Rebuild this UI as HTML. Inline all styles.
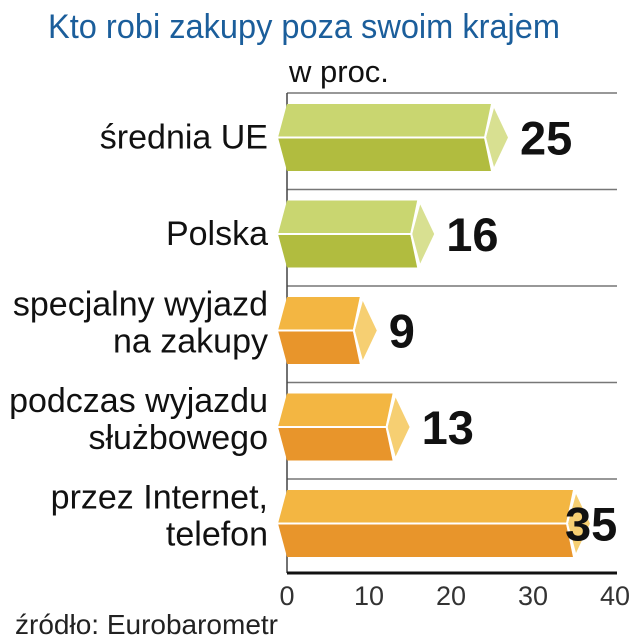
<!DOCTYPE html>
<html><head><meta charset="utf-8"><style>
html,body{margin:0;padding:0;background:#fff;}
svg{display:block;font-family:"Liberation Sans",sans-serif;}
</style></head><body>
<svg id="chart" width="629" height="640" viewBox="0 0 629 640">
<text x="48" y="38" font-size="34" fill="#1b5e9b" textLength="512" lengthAdjust="spacingAndGlyphs">Kto robi zakupy poza swoim krajem</text>
<text x="289" y="82" font-size="31" fill="#111">w proc.</text>
<g id="grid"></g><g id="bars"></g><g id="labels"></g>
<line x1="287" y1="573" x2="617" y2="573" stroke="#111" stroke-width="3"/>
<g id="ticks"></g>
<text x="15" y="634" font-size="28" fill="#222">źródło: Eurobarometr</text>
</svg>
<script>
const categories=[["średnia UE"],["Polska"],["specjalny wyjazd","na zakupy"],["podczas wyjazdu","służbowego"],["przez Internet,","telefon"]];
const values=[25,16,9,13,35];
const groups=["g","g","o","o","o"];
const tickValues=[0,10,20,30,40];
const NS="http://www.w3.org/2000/svg";
const x0=287,pxPer=8.2,rowTop=104,rowStep=96.5,barH=67;
const xs=v=>x0+v*pxPer;
const pal={g:["#c9d670","#b1bc3f","#d8e091"],o:["#f3b642","#e8952b","#f6cf72"]};
function mk(t,a,p){const e=document.createElementNS(NS,t);for(const k in a)e.setAttribute(k,a[k]);p.appendChild(e);return e;}
const grid=document.getElementById('grid'),bars=document.getElementById('bars'),labels=document.getElementById('labels'),ticks=document.getElementById('ticks');
for(let i=0;i<values.length;i++){
  const y=rowTop-11+i*rowStep;
  const l=mk('line',{x1:x0,y1:y,x2:617,y2:y,stroke:'#777','stroke-width':1.5},grid);
  
  
}
const vl=mk('line',{x1:x0,y1:93,x2:x0,y2:573,stroke:'#444','stroke-width':1.5},grid);


values.forEach((v,i)=>{
  const t=rowTop+i*rowStep,b=t+barH,m=t+barH/2,e=xs(v),c=pal[groups[i]];
  const g=mk('g',{},bars);
  
  
  mk('polygon',{points:`${x0},${t} ${e},${t} ${e-8},${m} ${x0-9},${m}`,fill:c[0]},g);
  mk('polygon',{points:`${x0-9},${m} ${e-8},${m} ${e},${b} ${x0},${b}`,fill:c[1]},g);
  mk('polygon',{points:`${e+2},${t+4} ${e+16},${m} ${e+2},${b-4} ${e-6},${m}`,fill:c[2]},g);
  mk('line',{x1:x0-9,y1:m,x2:e-7,y2:m,stroke:'#fff','stroke-width':2},g);
  mk('polyline',{points:`${e},${t} ${e-7},${m} ${e},${b}`,fill:'none',stroke:'#fff','stroke-width':2},g);
  const vx=Math.min(e+28,565);
  const vt=mk('text',{x:vx,y:m+17,'font-size':47,'font-weight':'bold',fill:'#111'},labels);
  vt.textContent=v;
  
  
  const lines=categories[i];
  lines.forEach((s,j)=>{
    const y=lines.length===1?m+11:m-15+j*37;
    const lt=mk('text',{x:268,y:y,'font-size':34,fill:'#111','text-anchor':'end'},labels);
    lt.textContent=s;
    
    
  });
});
tickValues.forEach(v=>{
  const tt=mk('text',{x:xs(v),y:605,'font-size':27,fill:'#333','text-anchor':'middle'},ticks);
  tt.textContent=v;
  
  
});
</script>
</body></html>
